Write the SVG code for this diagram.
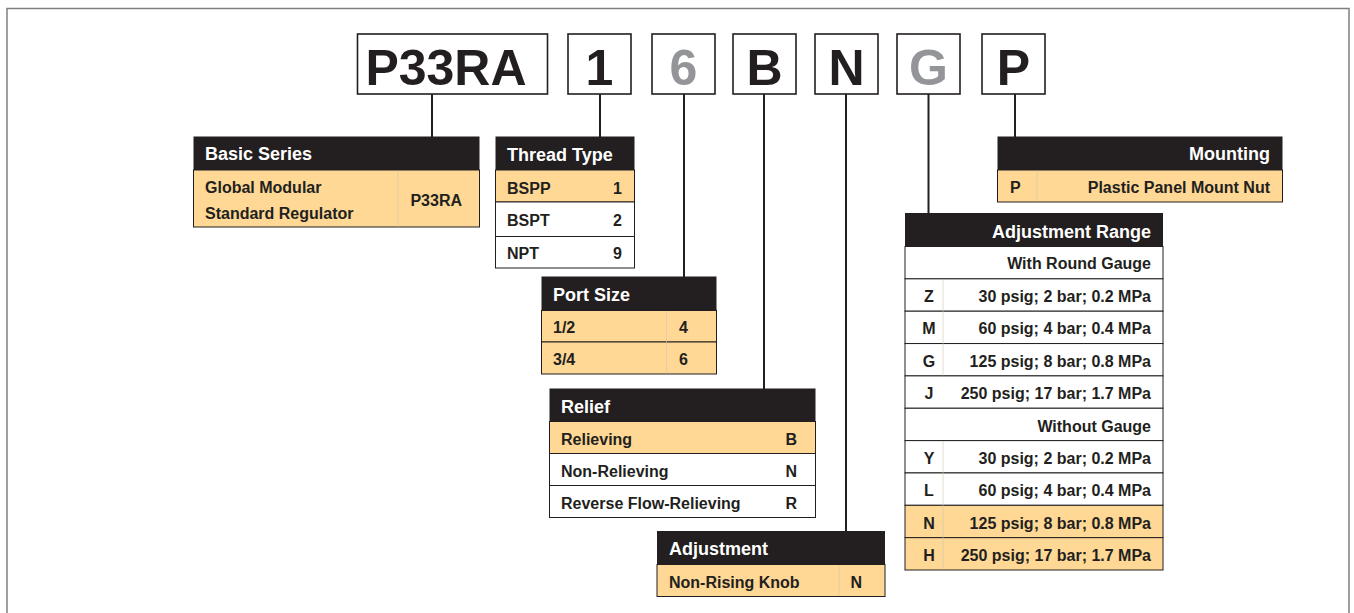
<svg xmlns="http://www.w3.org/2000/svg" width="1354" height="613" viewBox="0 0 1354 613">
<style>
.frame{fill:none;stroke:#808080;stroke-width:1.5}
.box{fill:#fff;stroke:#231f20;stroke-width:1.6}
.big{font-family:"Liberation Sans",Arial,sans-serif;font-weight:bold;font-size:50px;fill:#231f20;text-anchor:middle}
.gray{fill:#939598}
.hd{fill:#231f20}
.hl{fill:#fed894;stroke:#231f20;stroke-width:1}
.wr{fill:#fff;stroke:#231f20;stroke-width:1}
.div{stroke:#d2c7b3;stroke-width:0.6}
.ht{font-family:"Liberation Sans",Arial,sans-serif;font-weight:bold;font-size:18px;fill:#fff}
.t{font-family:"Liberation Sans",Arial,sans-serif;font-weight:bold;font-size:16px;fill:#231f20}
.e{text-anchor:end}
.m{text-anchor:middle}
.con{stroke:#231f20;stroke-width:2;fill:none}
</style>
<path class="frame" d="M7,620 V8.5 H1349 V620"/>

<g id="connectors">
<line class="con" x1="432" y1="94" x2="432" y2="137"/>
<line class="con" x1="600" y1="94" x2="600" y2="137"/>
<line class="con" x1="684" y1="94" x2="684" y2="277"/>
<line class="con" x1="764" y1="94" x2="764" y2="389"/>
<line class="con" x1="846" y1="94" x2="846" y2="531"/>
<line class="con" x1="928.5" y1="94" x2="928.5" y2="213"/>
<line class="con" x1="1015" y1="94" x2="1015" y2="137"/>
</g>

<g id="code-P33RA"><rect class="box" x="357.5" y="34" width="190" height="60"/><text class="big" x="446" y="85">P33RA</text></g>
<g id="code-1"><rect class="box" x="568" y="34" width="63" height="60"/><text class="big" x="599.5" y="85">1</text></g>
<g id="code-6"><rect class="box" x="652" y="34" width="63" height="60"/><text class="big gray" x="683.5" y="85">6</text></g>
<g id="code-B"><rect class="box" x="733" y="34" width="63" height="60"/><text class="big" x="764.5" y="85">B</text></g>
<g id="code-N"><rect class="box" x="815" y="34" width="63" height="60"/><text class="big" x="846.5" y="85">N</text></g>
<g id="code-G"><rect class="box" x="897" y="34" width="63" height="60"/><text class="big gray" x="928.5" y="85">G</text></g>
<g id="code-P"><rect class="box" x="982" y="34" width="63" height="60"/><text class="big" x="1013.5" y="85">P</text></g>

<g id="basic-series">
<rect class="hd" x="193.5" y="136.5" width="286" height="33.5"/>
<rect class="hl" x="193.5" y="170" width="286" height="57"/>
<line class="div" x1="398" y1="170.5" x2="398" y2="226.5"/>
<text class="ht" x="205" y="160">Basic Series</text>
<text class="t" x="205" y="193">Global Modular</text>
<text class="t" x="205" y="219">Standard Regulator</text>
<text class="t e" x="462" y="206">P33RA</text>
</g>

<g id="thread-type">
<rect class="hd" x="495.5" y="136.5" width="139" height="33.5"/>
<rect class="hl" x="495.5" y="170" width="139" height="32"/>
<rect class="wr" x="495.5" y="202" width="139" height="34.5"/>
<rect class="wr" x="495.5" y="236.5" width="139" height="31.5"/>
<text class="ht" x="507" y="161">Thread Type</text>
<text class="t" x="507" y="193.5">BSPP</text><text class="t e" x="622" y="193.5">1</text>
<text class="t" x="507" y="226">BSPT</text><text class="t e" x="622" y="226">2</text>
<text class="t" x="507" y="259">NPT</text><text class="t e" x="622" y="259">9</text>
</g>

<g id="port-size">
<rect class="hd" x="541.5" y="276.5" width="175" height="34"/>
<rect class="hl" x="541.5" y="310.5" width="175" height="31.5"/>
<rect class="hl" x="541.5" y="342" width="175" height="32"/>
<line class="div" x1="666.5" y1="311" x2="666.5" y2="373.5"/>
<text class="ht" x="553" y="301">Port Size</text>
<text class="t" x="553" y="333">1/2</text><text class="t e" x="688" y="333">4</text>
<text class="t" x="553" y="365">3/4</text><text class="t e" x="688" y="365">6</text>
</g>

<g id="relief">
<rect class="hd" x="549.5" y="388.5" width="266" height="33"/>
<rect class="hl" x="549.5" y="421.5" width="266" height="32"/>
<rect class="wr" x="549.5" y="453.5" width="266" height="32"/>
<rect class="wr" x="549.5" y="485.5" width="266" height="32"/>
<text class="ht" x="561" y="413">Relief</text>
<text class="t" x="561" y="444.5">Relieving</text><text class="t e" x="797" y="444.5">B</text>
<text class="t" x="561" y="476.5">Non-Relieving</text><text class="t e" x="797" y="476.5">N</text>
<text class="t" x="561" y="508.5">Reverse Flow-Relieving</text><text class="t e" x="797" y="508.5">R</text>
</g>

<g id="adjustment">
<rect class="hd" x="657" y="531" width="228" height="33.5"/>
<rect class="hl" x="657" y="564.5" width="228" height="32"/>
<line class="div" x1="839" y1="565" x2="839" y2="596"/>
<text class="ht" x="669" y="555">Adjustment</text>
<text class="t" x="669" y="587.5">Non-Rising Knob</text><text class="t e" x="862" y="587.5">N</text>
</g>

<g id="mounting">
<rect class="hd" x="997.5" y="136.5" width="285" height="33.5"/>
<rect class="hl" x="997.5" y="170" width="285" height="32"/>
<line class="div" x1="1037" y1="170.5" x2="1037" y2="201.5"/>
<text class="ht e" x="1270" y="160">Mounting</text>
<text class="t" x="1010" y="193">P</text>
<text class="t e" x="1270" y="193">Plastic Panel Mount Nut</text>
</g>

<g id="adjustment-range">
<rect class="hd" x="905" y="213" width="258" height="33.5"/>
<rect class="wr" x="905" y="246.5" width="258" height="32.35"/>
<rect class="wr" x="905" y="278.85" width="258" height="32.35"/>
<rect class="wr" x="905" y="311.2" width="258" height="32.35"/>
<rect class="wr" x="905" y="343.55" width="258" height="32.35"/>
<rect class="wr" x="905" y="375.9" width="258" height="32.35"/>
<rect class="wr" x="905" y="408.25" width="258" height="32.35"/>
<rect class="wr" x="905" y="440.6" width="258" height="32.35"/>
<rect class="wr" x="905" y="472.95" width="258" height="32.35"/>
<rect class="hl" x="905" y="505.3" width="258" height="32.35"/>
<rect class="hl" x="905" y="537.65" width="258" height="32.35"/>
<line class="div" x1="943" y1="279.3" x2="943" y2="375.5"/>
<line class="div" x1="943" y1="441" x2="943" y2="569.5"/>
<text class="ht e" x="1151" y="237.5">Adjustment Range</text>
<text class="t e" x="1151" y="269">With Round Gauge</text>
<text class="t m" x="929" y="302">Z</text><text class="t e" x="1151" y="302">30 psig; 2 bar; 0.2 MPa</text>
<text class="t m" x="929" y="334">M</text><text class="t e" x="1151" y="334">60 psig; 4 bar; 0.4 MPa</text>
<text class="t m" x="929" y="366.5">G</text><text class="t e" x="1151" y="366.5">125 psig; 8 bar; 0.8 MPa</text>
<text class="t m" x="929" y="399">J</text><text class="t e" x="1151" y="399">250 psig; 17 bar; 1.7 MPa</text>
<text class="t e" x="1151" y="431.5">Without Gauge</text>
<text class="t m" x="929" y="464">Y</text><text class="t e" x="1151" y="464">30 psig; 2 bar; 0.2 MPa</text>
<text class="t m" x="929" y="496">L</text><text class="t e" x="1151" y="496">60 psig; 4 bar; 0.4 MPa</text>
<text class="t m" x="929" y="528.5">N</text><text class="t e" x="1151" y="528.5">125 psig; 8 bar; 0.8 MPa</text>
<text class="t m" x="929" y="561">H</text><text class="t e" x="1151" y="561">250 psig; 17 bar; 1.7 MPa</text>
</g>
</svg>
